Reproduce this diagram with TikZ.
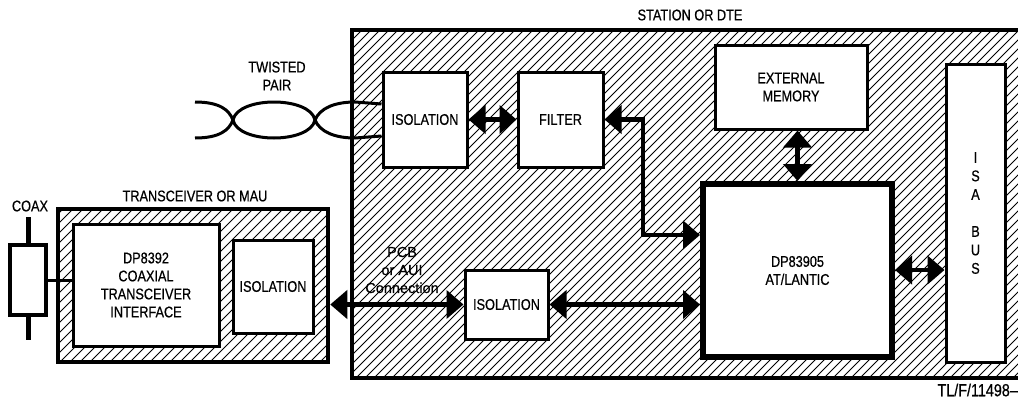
\documentclass[tikz,border=0pt]{standalone}
\usepackage{fontspec}
\setmainfont{Liberation Sans}[FakeStretch=0.82,FakeBold=0.6]
\newfontfamily\plainsans{Liberation Sans}[FakeBold=0.6]
\usetikzlibrary{arrows.meta}
\begin{document}
\begin{tikzpicture}[x=1pt,y=-1pt,
  every node/.style={font=\fontsize{15.5}{18}\selectfont, inner sep=0pt},
  box/.style={draw, fill=white, line width=3pt, align=center},
  hatch/.style={line width=0.75pt},
  dbl/.style={line width=4.5pt, {Triangle[length=17pt,width=28pt]}-{Triangle[length=17pt,width=28pt]}},
  lead/.style={line width=5pt},
  pair/.style={line width=3pt},
  lbl/.style={align=center}]
\useasboundingbox (0,0) rectangle (1018,405);

% station background hatching
\begin{scope}
  \clip (352,30) rectangle (1030,378);
  \foreach \i in {-400,-391,...,1030} \draw[hatch] (\i,378) -- (\i+348,30);
\end{scope}
\node[draw, line width=4pt, minimum width=678, minimum height=348] (station) at (691,204) {};

% transceiver background hatching
\begin{scope}
  \clip (58,209) rectangle (328,362);
  \foreach \i in {-200,-190,...,340} \draw[hatch] (\i,362) -- (\i+153,209);
\end{scope}
\node[draw, line width=4.5pt, minimum width=270, minimum height=153] (mau) at (193,285.5) {};

% labels
\node (stlbl) at (690,15) {STATION OR DTE};
\node (maulbl) at (195,196) {TRANSCEIVER OR MAU};
\node (coaxlbl) at (30,206) {COAX};
\node[lbl] (tplbl) at (277,76) {TWISTED\\PAIR};
\node[lbl, font=\plainsans\fontsize{14.5}{18}\selectfont] (pcblbl) at (402,270) {PCB\\or AUI\\Connection};
\node[anchor=east, font=\fontsize{17.5}{18}\selectfont] (tlf) at (1018,390) {TL/F/11498--};

% boxes
\node[box, minimum width=146, minimum height=122] (dp8392) at (146,285) {DP8392\\COAXIAL\\TRANSCEIVER\\INTERFACE};
\node[box, minimum width=80, minimum height=93] (iso0) at (273,286.5) {ISOLATION};
\node[box, minimum width=84, minimum height=95] (iso1) at (425,119.5) {ISOLATION};
\node[box, minimum width=85, minimum height=95] (filter) at (560.5,119.5) {FILTER};
\node[box, minimum width=152, minimum height=84] (extmem) at (791,87) {EXTERNAL\\MEMORY};
\node[box, line width=6pt, minimum width=189, minimum height=173] (dp) at (797.5,270.5) {DP83905\\AT/LANTIC};
\node[box, minimum width=59, minimum height=298] (isa) at (975.5,213) {};
\node[lbl, font=\fontsize{15.5}{18.5}\selectfont] (isalbl) at (975.5,213) {I\\S\\A\\[18.5pt]B\\U\\S};
\node[box, minimum width=83, minimum height=69] (iso2) at (506.5,304.5) {ISOLATION};

% coax resistor
\node[draw, line width=3.5pt, minimum width=36, minimum height=70] (res) at (28,280) {};
\coordinate (leadtop) at (28,217);
\coordinate (leadbot) at (28,340);
\draw[lead] (res.north) -- (leadtop);
\draw[lead] (res.south) -- (leadbot);
\draw[line width=3pt] (res.east) -- (res.east -| dp8392.west);

% twisted pair
\coordinate (tpA) at (195,102);
\coordinate (tpB) at (195,138);
\coordinate (x1) at (233,120);
\coordinate (x2) at (315,120);
\coordinate (tpC) at (iso1.west |- 0,104);
\coordinate (tpD) at (iso1.west |- 0,136);
\draw[pair] (tpA) .. controls (220,102) and (229,110) .. (x1)
  .. controls (238,96) and (310,96) .. (x2)
  .. controls (320,108) and (335,102) .. (355,102) -- (tpC);
\draw[pair] (tpB) .. controls (220,138) and (229,130) .. (x1)
  .. controls (238,144) and (310,144) .. (x2)
  .. controls (320,132) and (335,138) .. (355,138) -- (tpD);

% arrows
\draw[dbl] (iso1.east) -- (filter.west);
\coordinate (bend) at (643,235);
\draw[dbl] (filter.east) -| (bend) -- (bend -| dp.west);
\draw[dbl] (dp.north) -- (dp.north |- extmem.south);
\draw[dbl] (dp.east |- 0,270) -- (isa.west |- 0,270);
\draw[dbl] (iso2.west -| mau.east) -- (iso2.west);
\draw[dbl] (iso2.east) -- (iso2.east -| dp.west);
\end{tikzpicture}
\end{document}
